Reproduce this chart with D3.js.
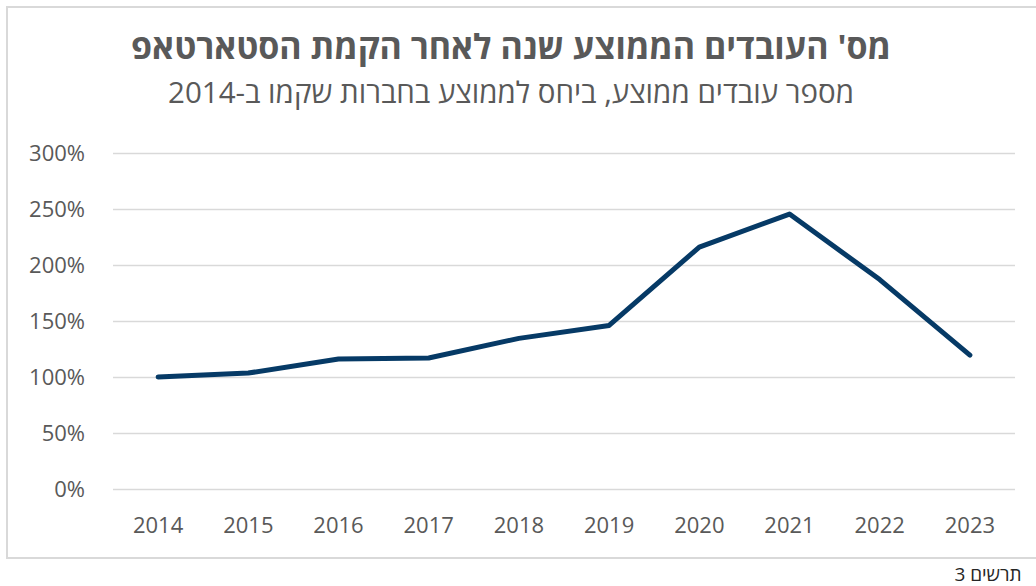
<!DOCTYPE html>
<html>
<head>
<meta charset="utf-8">
<script src="https://cdn.jsdelivr.net/npm/d3@7"></script>
<style>
  html, body { margin: 0; padding: 0; background: #fff; }
  svg { display: block; }
</style>
</head>
<body>
<div id="chart"></div>
<script>
/* Avg employees one year after founding — D3 v7 */

var years  = ["2014", "2015", "2016", "2017", "2018", "2019", "2020", "2021", "2022", "2023"];
var values = [100, 103.5, 116, 117, 134.5, 146, 216, 245.5, 187, 119.5];
var yTicks = [0, 50, 100, 150, 200, 250, 300];

var titleText    = "מס' העובדים הממוצע שנה לאחר הקמת הסטארטאפ";
var subtitleText = "מספר עובדים ממוצע, ביחס לממוצע בחברות שקמו ב-2014";
var captionText  = "תרשים 3";

(function () {
  "use strict";

  var W = 1036, H = 586;
  var font = "'Open Sans', 'Liberation Sans', 'DejaVu Sans', sans-serif";
  var grey = "#595959";

  var svg = d3.select("#chart").append("svg").attr("width", W).attr("height", H);

  // outer frame (right edge runs off the page)
  svg.append("rect")
    .attr("x", 7).attr("y", 7).attr("width", 1040).attr("height", 551)
    .attr("fill", "none").attr("stroke", "#d9d9d9").attr("stroke-width", 2);

  var plot = { left: 113, right: 1015, top: 153, bottom: 489 };

  var x = d3.scaleBand().domain(years).range([plot.left, plot.right]);
  var y = d3.scaleLinear().domain([0, 300]).range([plot.bottom, plot.top]);

  // rtl text, re-centred on cx after layout (bidi can shift the anchor)
  function rtlText(str, cx, by, size, weight, fill) {
    var t = svg.append("text").attr("x", cx).attr("y", by)
      .attr("text-anchor", "middle").attr("direction", "rtl")
      .attr("fill", fill).style("font-family", font)
      .style("font-size", size + "px").style("font-weight", weight)
      .text(str);
    var bb = t.node().getBBox();
    t.attr("x", cx + (cx - (bb.x + bb.width / 2)));
    return t;
  }

  // ── Titles ────────────────────────────────────────────────────────────────
  rtlText(titleText, 511, 59, 34, 700, grey);
  rtlText(subtitleText, 511, 103, 29.5, 400, grey);

  // ── Grid + axes ───────────────────────────────────────────────────────────
  var gY = svg.append("g").attr("transform", "translate(" + plot.left + ",0)")
    .call(d3.axisLeft(y).tickValues(yTicks)
      .tickSize(-(plot.right - plot.left)).tickPadding(28)
      .tickFormat(function (d) { return d + "%"; }));
  gY.select(".domain").remove();
  gY.selectAll("line").attr("stroke", "#d9d9d9").attr("stroke-width", 1.5);
  gY.selectAll("text").attr("fill", grey).style("font-family", font).style("font-size", "22px");

  var gX = svg.append("g").attr("transform", "translate(0," + plot.bottom + ")")
    .call(d3.axisBottom(x).tickSize(0).tickPadding(28));
  gX.select(".domain").remove();
  gX.selectAll("text").attr("fill", grey).style("font-family", font).style("font-size", "22px");

  // ── Line ──────────────────────────────────────────────────────────────────
  var pts = years.map(function (yr, i) { return { year: yr, v: values[i] }; });
  var line = d3.line()
    .x(function (d) { return x(d.year) + x.bandwidth() / 2; })
    .y(function (d) { return y(d.v); });

  svg.append("path").datum(pts)
    .attr("fill", "none").attr("stroke", "#063a66").attr("stroke-width", 5)
    .attr("stroke-linejoin", "round").attr("stroke-linecap", "round")
    .attr("d", line);

  // ── Caption ───────────────────────────────────────────────────────────────
  rtlText(captionText, 988, 581, 19, 400, "#262626");
})();
</script>
</body>
</html>
